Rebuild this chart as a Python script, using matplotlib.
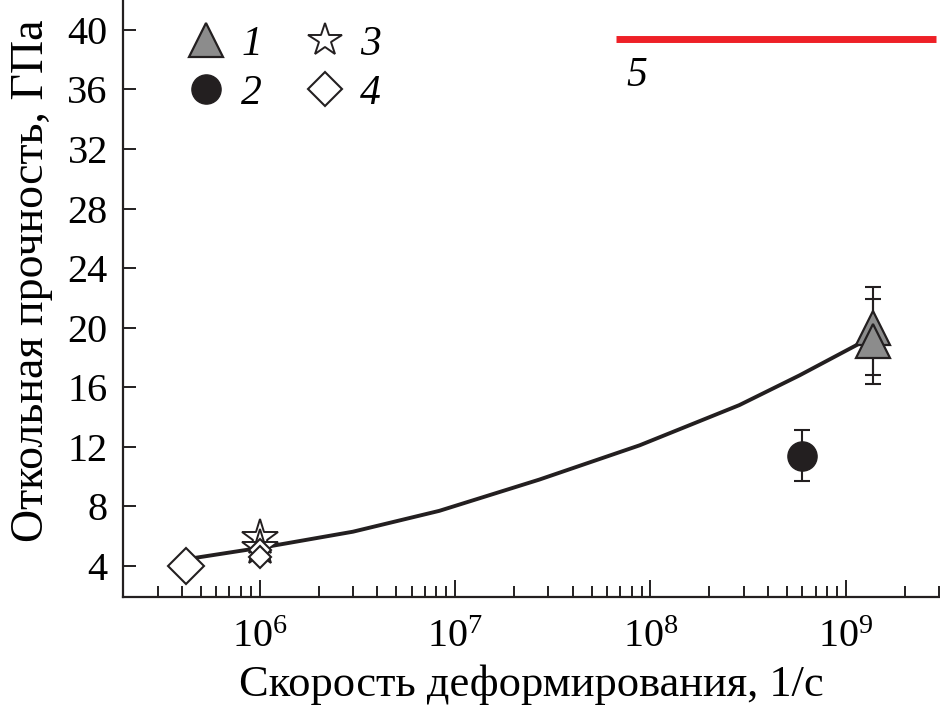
import numpy as np
import matplotlib
matplotlib.use('Agg')
import matplotlib.pyplot as plt
from matplotlib.lines import Line2D

plt.rcParams['font.family'] = ['Liberation Serif', 'DejaVu Serif']
plt.rcParams['mathtext.fontset'] = 'custom'
plt.rcParams['mathtext.rm'] = 'Liberation Serif'
plt.rcParams['mathtext.it'] = 'Liberation Serif:italic'

# 1 - triangles (two shots)
tri_rate = [1.37e9, 1.37e9]
tri_strength = [20.0, 19.1]
tri_err_lo = [3.2, 2.9]
tri_err_hi = [2.7, 2.8]

# 2 - circle
circ_rate = [6.0e8]
circ_strength = [11.4]
circ_err_lo = [1.7]
circ_err_hi = [1.7]

# 3 - stars
star_rate = [1.0e6, 1.0e6]
star_strength = [5.9, 5.2]

# 4 - diamonds
diam_rate = [4.2e5, 1.0e6, 1.0e6]
diam_strength = [4.0, 5.1, 4.6]
diam_size = [18, 11, 11]

# fit curve
fit_rate = [4.2e5, 1.1e6, 3.0e6, 8.3e6, 2.7e7, 8.8e7, 2.85e8, 5.8e8, 1.37e9]
fit_strength = [4.45, 5.3, 6.3, 7.7, 9.8, 12.1, 14.8, 16.8, 19.4]

# 5 - theoretical limit
lim_rate = [6.7e7, 2.9e9]
lim_strength = [39.4, 39.4]

fig = plt.figure(figsize=(9.4, 7.11), dpi=100)
ax = fig.add_axes([0.131, 0.160, 0.868, 0.840])

ax.plot(fit_rate, fit_strength, color='#231f20', lw=2.8, zorder=3,
        solid_joinstyle='round')
ax.plot(lim_rate, lim_strength, color='#ee2027', lw=5, solid_capstyle='butt', zorder=3)
ax.text(6.7e7 * 1.12, 36.9, '5', fontsize=30, style='italic', ha='left', va='center')

ax.errorbar(tri_rate, tri_strength, yerr=[tri_err_lo, tri_err_hi], fmt='none',
            ecolor='#231f20', elinewidth=1.5, capsize=6, capthick=1.5, zorder=2)
ax.plot(tri_rate, tri_strength, ls='none', marker='^', ms=25, mfc='#8c8c8c',
        mec='#231f20', mew=1.6, zorder=4)

ax.errorbar(circ_rate, circ_strength, yerr=[circ_err_lo, circ_err_hi], fmt='none',
            ecolor='#231f20', elinewidth=1.5, capsize=6, capthick=1.5, zorder=2)
ax.plot(circ_rate, circ_strength, ls='none', marker='o', ms=21, mfc='#231f20',
        mec='#231f20', zorder=4)

ax.plot(star_rate, star_strength, ls='none', marker='*', ms=27, mfc='white',
        mec='#231f20', mew=1.4, zorder=4)
for r, s, m in zip(diam_rate, diam_strength, diam_size):
    ax.plot([r], [s], ls='none', marker='D', ms=m, mfc='white',
            mec='#231f20', mew=1.5, zorder=4)

ax.set_xscale('log')
ax.set_xlim(2e5, 3e9)
ax.set_ylim(1.9, 42)
ax.set_yticks(np.arange(4, 41, 4))
ax.tick_params(axis='both', which='both', direction='in', labelsize=29, width=1.4,
               color='#231f20')
ax.tick_params(axis='x', which='major', length=12, pad=16)
ax.tick_params(axis='x', which='minor', length=8)
ax.tick_params(axis='y', which='major', length=9, pad=11)
ax.yaxis.set_minor_locator(plt.NullLocator())

for side in ['top', 'right']:
    ax.spines[side].set_visible(False)
for side in ['left', 'bottom']:
    ax.spines[side].set_linewidth(1.6)
    ax.spines[side].set_color('#231f20')

ax.set_xlabel('Скорость деформирования, 1/с', fontsize=32, labelpad=6)
ax.set_ylabel('Откольная прочность, ГПа', fontsize=33)
ax.yaxis.set_label_coords(-0.086, 0.53)

handles = [
    Line2D([], [], ls='none', marker='^', ms=24, mfc='#8c8c8c', mec='#231f20', mew=1.6),
    Line2D([], [], ls='none', marker='o', ms=21, mfc='#231f20', mec='#231f20'),
    Line2D([], [], ls='none', marker='*', ms=25, mfc='white', mec='#231f20', mew=1.4),
    Line2D([], [], ls='none', marker='D', ms=17, mfc='white', mec='#231f20', mew=1.5),
]
ax.legend(handles, ['1', '2', '3', '4'], ncol=2, loc='upper left',
          bbox_to_anchor=(0.03, 1.02), frameon=False, prop={'size': 30, 'style': 'italic'},
          handletextpad=0.35, columnspacing=1.0, labelspacing=0.25, handlelength=1.0)

plt.savefig('out.png', dpi=100)
